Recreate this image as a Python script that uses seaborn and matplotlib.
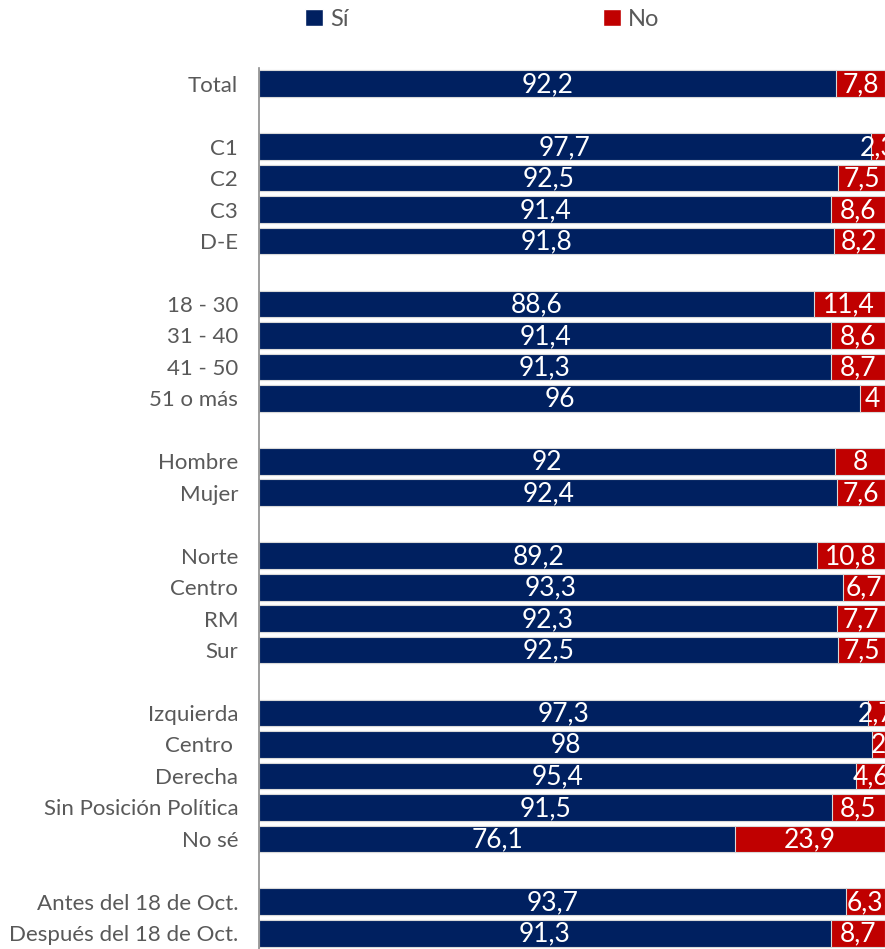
import matplotlib
matplotlib.use("Agg")
import numpy as np
import pandas as pd
import seaborn as sns
from matplotlib import pyplot as plt
from matplotlib.patches import Patch

# Survey groups, separated by a blank row in the chart.
groups = [
    ["Total"],
    ["C1", "C2", "C3", "D-E"],
    ["18 - 30", "31 - 40", "41 - 50", "51 o más"],
    ["Hombre", "Mujer"],
    ["Norte", "Centro", "RM", "Sur"],
    ["Izquierda", "Centro ", "Derecha", "Sin Posición Política", "No sé"],
    ["Antes del 18 de Oct.", "Después del 18 de Oct."],
]
si_values = [92.2,
             97.7, 92.5, 91.4, 91.8,
             88.6, 91.4, 91.3, 96,
             92, 92.4,
             89.2, 93.3, 92.3, 92.5,
             97.3, 98, 95.4, 91.5, 76.1,
             93.7, 91.3]
no_values = [7.8,
             2.3, 7.5, 8.6, 8.2,
             11.4, 8.6, 8.7, 4,
             8, 7.6,
             10.8, 6.7, 7.7, 7.5,
             2.7, 2, 4.6, 8.5, 23.9,
             6.3, 8.7]

NAVY = "#002060"
RED = "#c00000"
GRAY_TXT = "#595959"

# build category order with blank spacer rows
order, ticklabels, labels = [], [], []
for gi, g in enumerate(groups):
    if gi > 0:
        order.append("gap%d" % gi)
        ticklabels.append("")
    for name in g:
        order.append(name)
        ticklabels.append(name)
        labels.append(name)

df = pd.DataFrame({"grupo": labels, "si": si_values, "no": no_values})
df["total"] = df["si"] + df["no"]

sns.set_style("white")
plt.rcParams["font.family"] = ["Lato", "DejaVu Sans"]

fig = plt.figure(figsize=(8.85, 9.49), dpi=100)
ax = fig.add_axes([259 / 885, 0, 1 - 259 / 885, 1 - 68 / 949])

sns.barplot(data=df, y="grupo", x="total", order=order, orient="h",
            color=RED, saturation=1, width=0.85, edgecolor="#d9d9d9",
            linewidth=0.8, ax=ax)
sns.barplot(data=df, y="grupo", x="si", order=order, orient="h",
            color=NAVY, saturation=1, width=0.85, edgecolor="#d9d9d9",
            linewidth=0.8, ax=ax)


def fmt(v):
    return ("%g" % v).replace(".", ",")


for _, r in df.iterrows():
    y = order.index(r["grupo"])
    ax.text(r["si"] / 2, y + 0.03, fmt(r["si"]), color="white", fontsize=19,
            ha="center", va="center")
    ax.text(r["si"] + r["no"] / 2, y + 0.03, fmt(r["no"]), color="white",
            fontsize=19, ha="center", va="center", clip_on=False)

ax.set_xlim(0, 100)
ax.set_ylim(len(order) - 0.5, -0.5)
ax.set_yticks(range(len(order)))
ax.set_yticklabels(ticklabels, fontsize=16, color=GRAY_TXT)
ax.tick_params(axis="y", length=0, pad=15)
ax.set_xticks([])
ax.set_xlabel("")
ax.set_ylabel("")
for s in ["top", "right", "bottom"]:
    ax.spines[s].set_visible(False)
ax.spines["left"].set_color("#8c8c8c")
ax.spines["left"].set_linewidth(1.2)

handles = [Patch(facecolor=NAVY, label="Sí"), Patch(facecolor=RED, label="No")]
fig.legend(handles=handles, loc="center", bbox_to_anchor=(0.545, 1 - 19 / 949),
           ncol=2, frameon=False, fontsize=17, labelcolor=GRAY_TXT,
           handlelength=0.75, handleheight=0.75, handletextpad=0.3,
           columnspacing=10.8)

fig.savefig("out.png", dpi=100)
